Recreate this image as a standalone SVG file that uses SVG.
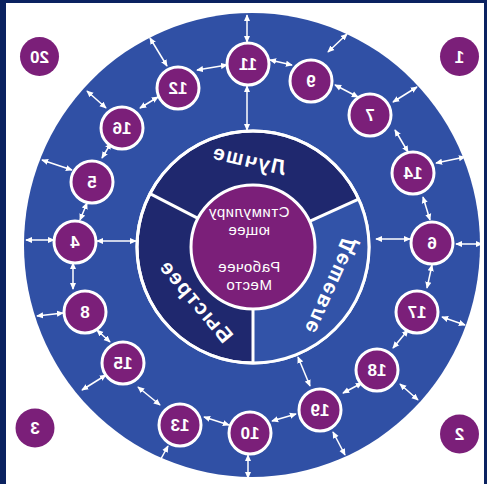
<svg xmlns="http://www.w3.org/2000/svg" width="487" height="484" viewBox="0 0 487 484">
<defs>
<style>
.node circle{fill:#7b1f79;stroke:#fff;stroke-width:3}
.corner circle{fill:#7b1f79}
.num{font-family:"Liberation Sans",Arial,sans-serif;font-weight:bold;font-size:17px;fill:#fff;text-anchor:middle}
.seg{font-family:"Liberation Sans",Arial,sans-serif;font-weight:bold;font-size:21px;letter-spacing:1.5px;fill:#fff;text-anchor:middle}
.ctr{font-family:"Liberation Sans",Arial,sans-serif;font-size:15px;letter-spacing:0.5px;fill:#fff;text-anchor:middle}
#connectors line{stroke:#fff;stroke-width:1.5;marker-start:url(#ah);marker-end:url(#ah)}
.div{stroke:#fff;stroke-width:3}
</style>
<marker id="ah" viewBox="0 0 8 8" refX="7" refY="4" markerWidth="7" markerHeight="7" markerUnits="userSpaceOnUse" orient="auto-start-reverse">
<path d="M0,0.5 L8,4 L0,7.5 Z" fill="#fff"/>
</marker>
</defs>
<rect width="487" height="484" fill="#0b2260"/>
<rect x="6" y="3" width="478" height="481" fill="#fff"/>
<ellipse cx="252" cy="245" rx="228" ry="232" fill="#3050a5"/>

<g id="core">
<circle cx="253" cy="247" r="116" fill="#1f286e" stroke="#fff" stroke-width="3"/>
<path d="M253,247 L358.6,199.1 A116,116 0 0 1 253,363 Z" fill="#3253a8"/>
<circle cx="253" cy="247" r="116" fill="none" stroke="#fff" stroke-width="3"/>
<line class="div" x1="198" y1="218.4" x2="150" y2="193.6"/>
<line class="div" x1="309.5" y1="221.4" x2="358.6" y2="199.1"/>
<line class="div" x1="253" y1="309" x2="253" y2="363"/>
<circle cx="253" cy="247" r="62" fill="#7b1f79" stroke="#fff" stroke-width="3"/>
<text class="seg" transform="translate(249,160) rotate(13) scale(-1,1)" dy="7">Лучше</text>
<text class="seg" transform="translate(329,285) rotate(-65.7) scale(-1,1)" dy="7">Дешевле</text>
<text class="seg" transform="translate(196,301) rotate(50) scale(-1,1)" dy="7">Быстрее</text>
<text class="ctr" transform="translate(249,217) scale(-1,1)">Стимулиру</text>
<text class="ctr" transform="translate(249,235) scale(-1,1)">ющее</text>
<text class="ctr" transform="translate(249,272) scale(-1,1)">Рабочее</text>
<text class="ctr" transform="translate(249,290) scale(-1,1)">Место</text>
</g>

<g id="connectors">
<line x1="247" y1="42" x2="247" y2="15"/>
<line x1="247" y1="86" x2="247" y2="130"/>
<line x1="270" y1="60" x2="292" y2="65"/>
<line x1="227" y1="65" x2="197" y2="70"/>
<line x1="328" y1="52" x2="347" y2="34"/>
<line x1="167" y1="66" x2="150" y2="38"/>
<line x1="335" y1="85" x2="358" y2="97"/>
<line x1="393" y1="102" x2="417" y2="87"/>
<line x1="395" y1="130" x2="408" y2="152"/>
<line x1="436" y1="163" x2="465" y2="157"/>
<line x1="423" y1="197" x2="430" y2="220"/>
<line x1="410" y1="239" x2="376" y2="239"/>
<line x1="456" y1="244" x2="482" y2="244"/>
<line x1="432" y1="265" x2="427" y2="288"/>
<line x1="442" y1="317" x2="465" y2="325"/>
<line x1="408" y1="330" x2="393" y2="348"/>
<line x1="400" y1="384" x2="418" y2="400"/>
<line x1="362" y1="383" x2="343" y2="393"/>
<line x1="310" y1="386" x2="298" y2="357"/>
<line x1="333" y1="432" x2="345" y2="455"/>
<line x1="296" y1="414" x2="272" y2="421"/>
<line x1="248" y1="455" x2="248" y2="478"/>
<line x1="229" y1="425" x2="204" y2="417"/>
<line x1="168" y1="446" x2="157" y2="466"/>
<line x1="160" y1="405" x2="138" y2="387"/>
<line x1="106" y1="375" x2="82" y2="390"/>
<line x1="110" y1="342" x2="97" y2="330"/>
<line x1="63" y1="313" x2="37" y2="316"/>
<line x1="73" y1="289" x2="73" y2="263"/>
<line x1="54" y1="240" x2="26" y2="240"/>
<line x1="97" y1="241" x2="136" y2="241"/>
<line x1="80" y1="220" x2="87" y2="203"/>
<line x1="72" y1="170" x2="42" y2="160"/>
<line x1="102" y1="158" x2="111" y2="143"/>
<line x1="106" y1="108" x2="87" y2="91"/>
<line x1="140" y1="108" x2="158" y2="97"/>
</g>

<g id="n11" class="node"><circle cx="248" cy="64" r="21"/><text class="num" transform="translate(248,70) scale(-1,1)">11</text></g>
<g id="n9" class="node"><circle cx="311" cy="81" r="21"/><text class="num" transform="translate(311,87) scale(-1,1)">9</text></g>
<g id="n12" class="node"><circle cx="178" cy="88" r="21"/><text class="num" transform="translate(178,94) scale(-1,1)">12</text></g>
<g id="n7" class="node"><circle cx="370" cy="115" r="21"/><text class="num" transform="translate(370,121) scale(-1,1)">7</text></g>
<g id="n16" class="node"><circle cx="122" cy="128" r="21"/><text class="num" transform="translate(122,134) scale(-1,1)">16</text></g>
<g id="n14" class="node"><circle cx="413" cy="173" r="21"/><text class="num" transform="translate(413,179) scale(-1,1)">14</text></g>
<g id="n5" class="node"><circle cx="92" cy="182" r="21"/><text class="num" transform="translate(92,188) scale(-1,1)">5</text></g>
<g id="n6" class="node"><circle cx="432" cy="243" r="21"/><text class="num" transform="translate(432,249) scale(-1,1)">6</text></g>
<g id="n4" class="node"><circle cx="75" cy="242" r="21"/><text class="num" transform="translate(75,248) scale(-1,1)">4</text></g>
<g id="n17" class="node"><circle cx="417" cy="312" r="21"/><text class="num" transform="translate(417,318) scale(-1,1)">17</text></g>
<g id="n8" class="node"><circle cx="85" cy="312" r="21"/><text class="num" transform="translate(85,318) scale(-1,1)">8</text></g>
<g id="n18" class="node"><circle cx="377" cy="370" r="21"/><text class="num" transform="translate(377,376) scale(-1,1)">18</text></g>
<g id="n15" class="node"><circle cx="123" cy="363" r="21"/><text class="num" transform="translate(123,369) scale(-1,1)">15</text></g>
<g id="n19" class="node"><circle cx="320" cy="410" r="21"/><text class="num" transform="translate(320,416) scale(-1,1)">19</text></g>
<g id="n13" class="node"><circle cx="180" cy="425" r="21"/><text class="num" transform="translate(180,431) scale(-1,1)">13</text></g>
<g id="n10" class="node"><circle cx="250" cy="433" r="21"/><text class="num" transform="translate(250,439) scale(-1,1)">10</text></g>

<g id="n20" class="corner"><circle cx="39.5" cy="56.5" r="19.5"/><text class="num" transform="translate(39.5,62.5) scale(-1,1)">20</text></g>
<g id="n1" class="corner"><circle cx="459.5" cy="56.5" r="19.5"/><text class="num" transform="translate(459.5,62.5) scale(-1,1)">1</text></g>
<g id="n3" class="corner"><circle cx="35" cy="428" r="19.5"/><text class="num" transform="translate(35,434) scale(-1,1)">3</text></g>
<g id="n2" class="corner"><circle cx="459.5" cy="434" r="19.5"/><text class="num" transform="translate(459.5,440) scale(-1,1)">2</text></g>
</svg>
